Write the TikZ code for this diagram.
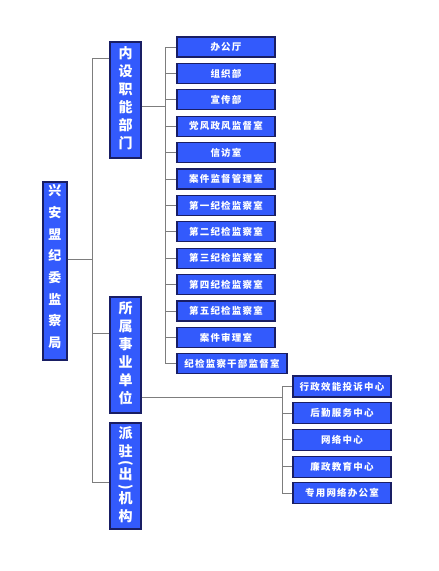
\documentclass[tikz,border=0pt]{standalone}
\usepackage{fontspec}
\setmainfont{Noto Sans CJK SC}
\usetikzlibrary{positioning}
\definecolor{cBox}{RGB}{51,90,252}
\definecolor{cEdge}{RGB}{25,30,100}
\definecolor{cLine}{RGB}{125,125,125}
% brackets turned for vertical text
\newcommand{\lparv}{\rotatebox[origin=c]{-90}{(}}
\newcommand{\rparv}{\rotatebox[origin=c]{-90}{)}}
\tikzset{
	unit/.style ={rectangle, draw=cEdge, fill=cBox, text=white, line width=1.2pt, minimum width=98pt, minimum height=20pt, inner sep=0pt, font=\fontsize{9.5}{9.5}\selectfont\bfseries\addfontfeature{LetterSpace=13}},
	vbox/.style ={rectangle, draw=cEdge, fill=cBox, text=white, line width=1.2pt, minimum width=31pt, minimum height=116pt, inner sep=0pt, text width=16pt, align=center, font=\fontsize{14}{18}\selectfont\bfseries},
	topbox/.style={vbox, minimum width=24pt, minimum height=178pt, font=\fontsize{13}{21.7}\selectfont\bfseries},
	link/.style ={draw=cLine, line width=0.9pt},
}
\begin{document}
\begin{tikzpicture}[x=1pt, y=-1pt]
	\useasboundingbox[fill=white] (0,0) rectangle (439,571);
	% left column
	\node[topbox] (jwj) at (55,271) {兴\\安\\盟\\纪\\委\\监\\察\\局\\[-12pt]\mbox{}};
	\node[vbox] (nsbm) at (125.5,100) {内\\设\\职\\能\\部\\门\\[-14pt]\mbox{}};
	\node[vbox] (sszy) at (125.5,355) {所\\属\\事\\业\\单\\位\\[-14pt]\mbox{}};
	\node[vbox, minimum height=106pt] (pzjg) at (125.5,476)
		{\lineskiplimit=-50pt\relax 派\\驻\\[-7pt]\lparv\\[-6pt]出\\[-6pt]\rparv\\[-6pt]机\\构\\[-14pt]\mbox{}};
	% inner departments
	\foreach \name [count=\i] in {办公厅, 组织部, 宣传部, 党风政风监督室, 信访室, 案件监督管理室, 第一纪检监察室, 第二纪检监察室, 第三纪检监察室, 第四纪检监察室, 第五纪检监察室, 案件审理室}
		\node[unit] (d\i) at (226,{47+26.4*(\i-1)}) {\name};
	\node[unit, minimum width=110pt] (d13) at (232,{47+26.4*12}) {纪检监察干部监督室};
	% affiliated units
	\foreach \name [count=\i] in {行政效能投诉中心, 后勤服务中心, 网络中心, 廉政教育中心, 专用网络办公室}
		\node[unit, minimum height=21pt] (u\i) at (342,{386.5+26.7*(\i-1)}) {\name};
	% trunk lines
	\coordinate (t0) at (92,259);
	\coordinate (t1) at (92,58);
	\coordinate (t2) at (92,482);
	\coordinate (t3) at (92,333);
	\draw[link] (jwj.east |- t0) -- (t0);
	\draw[link] (nsbm.west |- t1) -- (t1) -- (t2) -- (pzjg.west |- t2);
	\draw[link] (t3) -- (sszy.west |- t3);
	% inner spine
	\coordinate (s0) at (165,106);
	\draw[link] (nsbm.east |- s0) -- (s0);
	\draw[link] (s0 |- d1) -- (s0 |- d13);
	\foreach \i in {1,...,13}
		\draw[link] (s0 |- d\i) -- (d\i.west);
	% affiliated spine
	\coordinate (r0) at (282,397);
	\draw[link] (sszy.east |- r0) -- (r0);
	\draw[link] (r0 |- u1) -- (r0 |- u5);
	\foreach \i in {1,...,5}
		\draw[link] (r0 |- u\i) -- (u\i.west);
\end{tikzpicture}
\end{document}
